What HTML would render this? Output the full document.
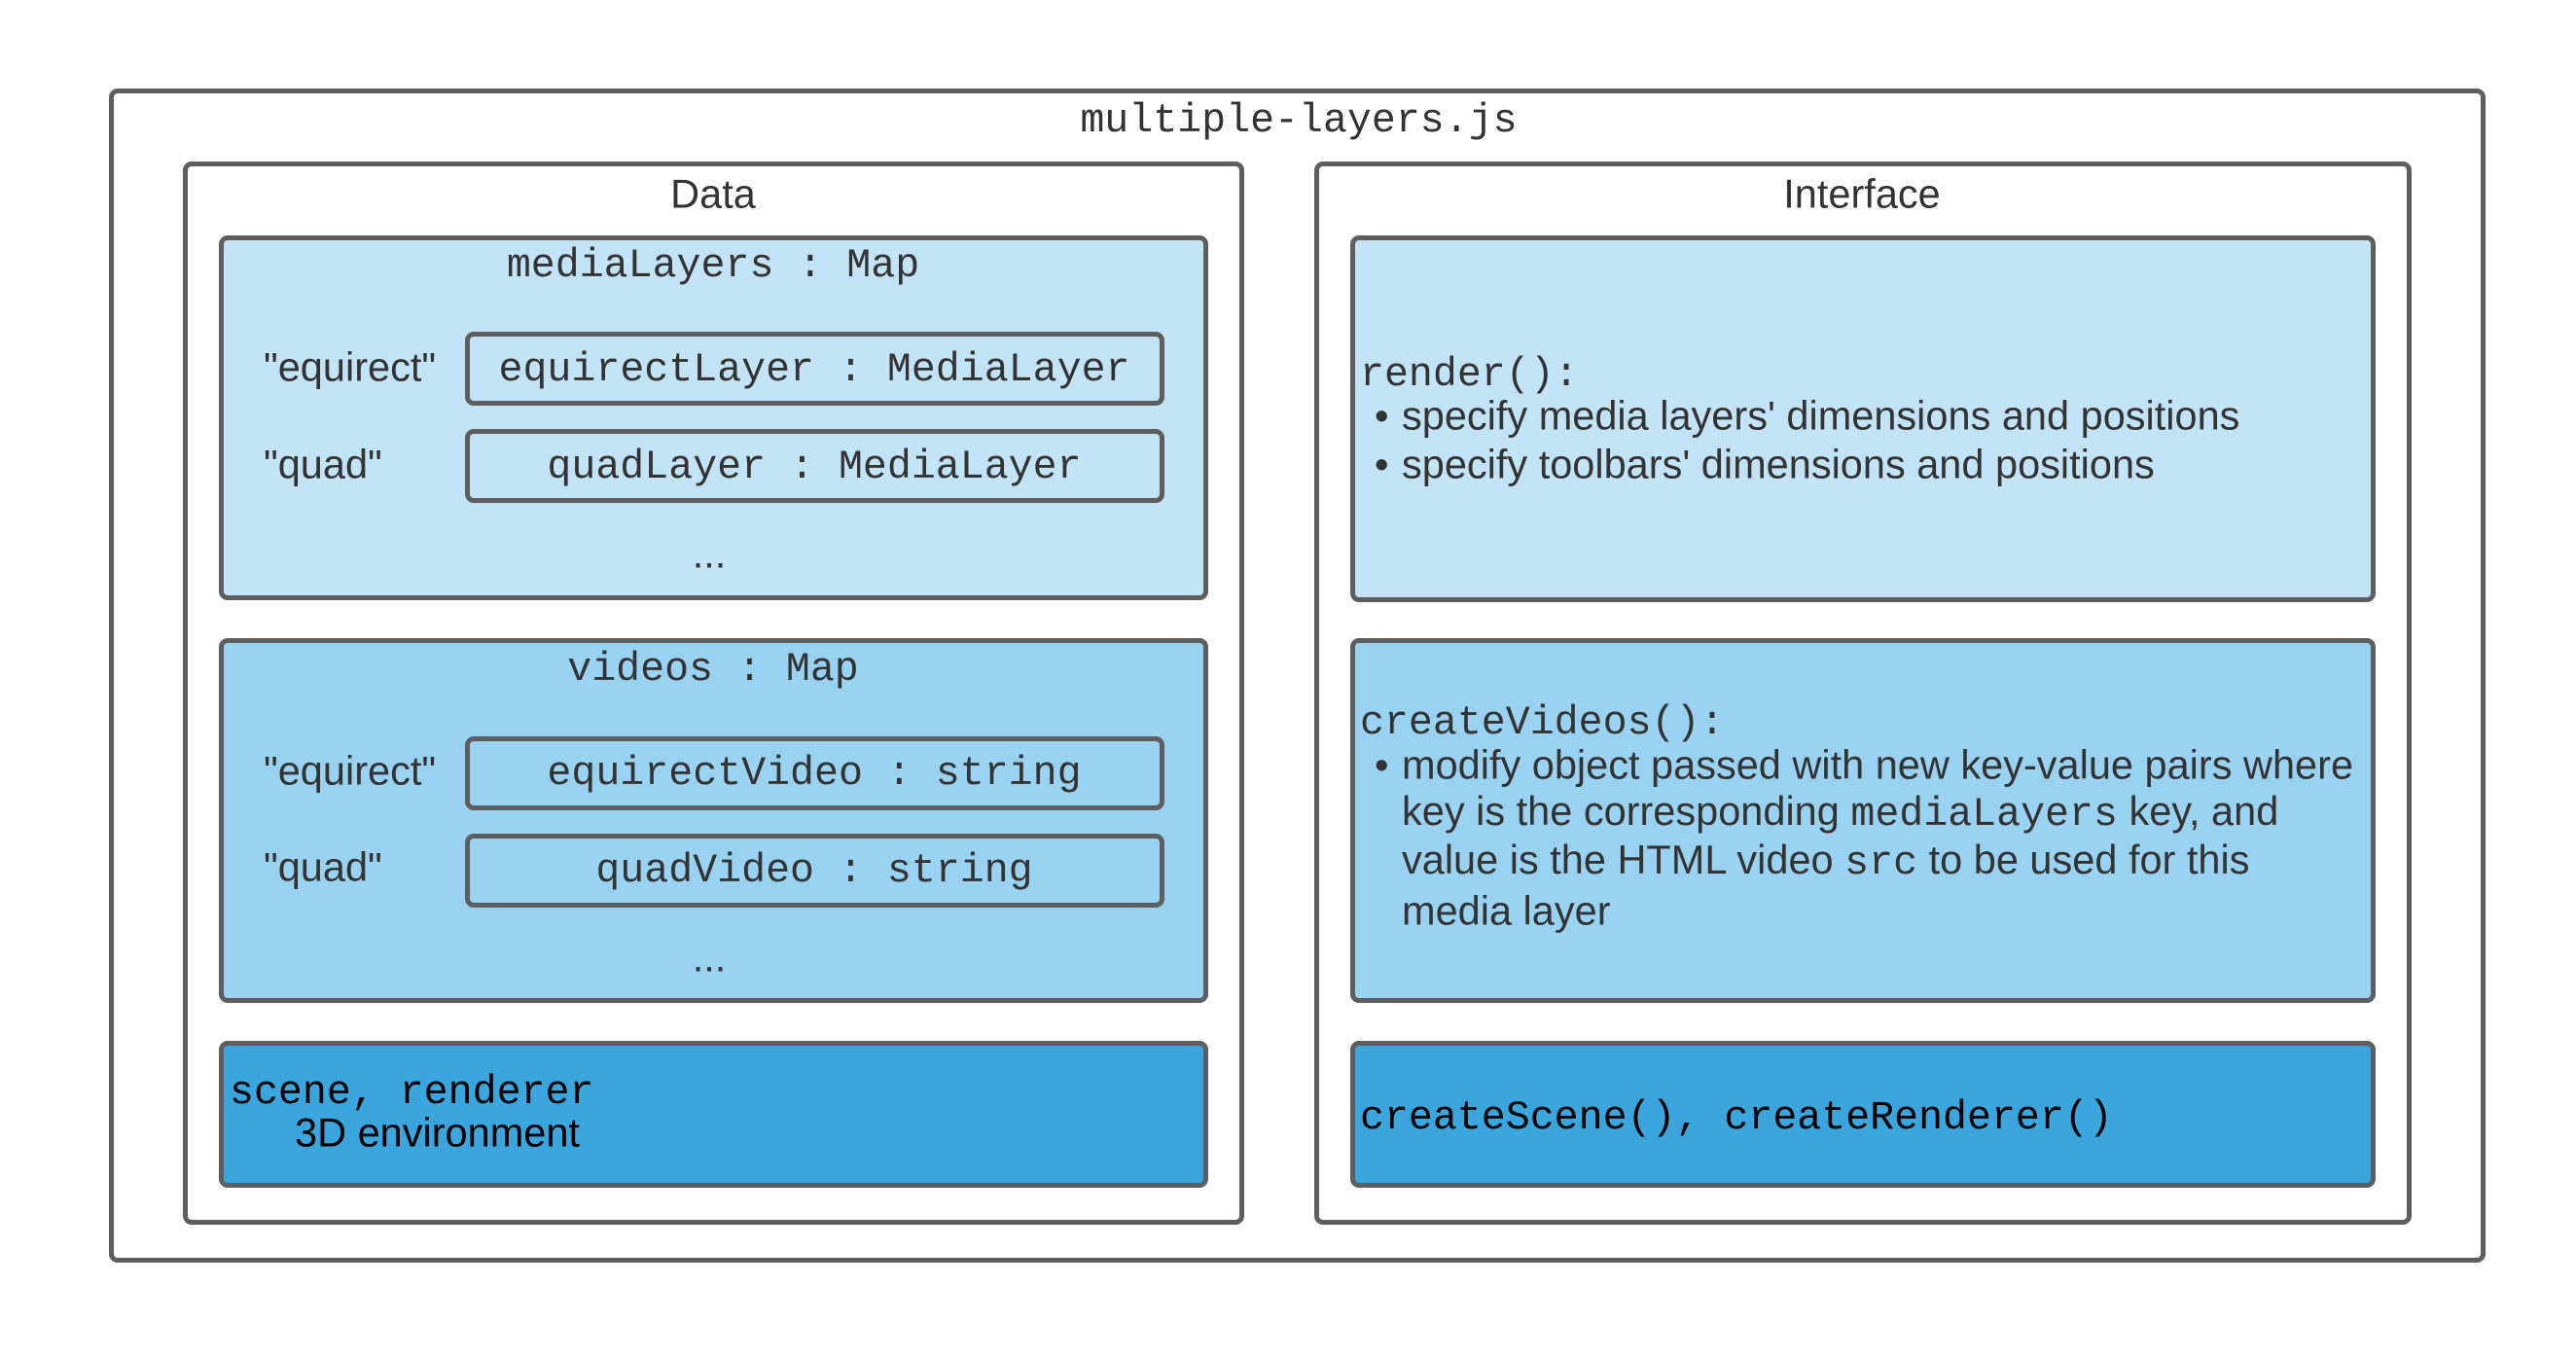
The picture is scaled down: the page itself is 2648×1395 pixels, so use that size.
<!DOCTYPE html>
<html><head><style>
body{margin:0;width:2648px;height:1395px;background:#fff;position:relative;overflow:hidden;font-family:"Liberation Sans",sans-serif;color:#333}
.b{position:absolute;box-sizing:border-box;border:5px solid #5e5e5e;border-radius:9px}
.t{position:absolute;white-space:nowrap;line-height:1}
.m{font-family:"Liberation Mono",monospace}
.c{transform:translate(-50%,-50%)}
.v{transform:translateY(-50%)}
.s{font-size:41.5px}
.mm{font-size:41.6px}
.s .m{font-size:41.6px}
</style></head><body>
<div class="b" style="left:112px;top:91px;width:2443px;height:1207px"></div>
<div class="t m mm c" style="left:1335px;top:125px">multiple-layers.js</div>

<div class="b" style="left:188px;top:166px;width:1091px;height:1093px"></div>
<div class="t s c" style="left:733px;top:199px">Data</div>
<div class="b" style="left:1351px;top:166px;width:1128px;height:1093px"></div>
<div class="t s c" style="left:1914px;top:199px">Interface</div>

<div class="b" style="left:225px;top:242px;width:1017px;height:375px;background:#c2e4f6"></div>
<div class="t m mm c" style="left:733px;top:274px">mediaLayers : Map</div>
<div class="t s v" style="left:271px;top:377px">"equirect"</div>
<div class="t s v" style="left:271px;top:477px">"quad"</div>
<div class="b" style="left:478px;top:341px;width:719px;height:76px"></div>
<div class="t m mm c" style="left:837px;top:381px">equirectLayer : MediaLayer</div>
<div class="b" style="left:478px;top:441px;width:719px;height:76px"></div>
<div class="t m mm c" style="left:837px;top:481px">quadLayer : MediaLayer</div>
<div class="t s c" style="left:729px;top:569px">...</div>

<div class="b" style="left:225px;top:656px;width:1017px;height:375px;background:#9ad2f2"></div>
<div class="t m mm c" style="left:733px;top:689px">videos : Map</div>
<div class="t s v" style="left:271px;top:792px">"equirect"</div>
<div class="t s v" style="left:271px;top:891px">"quad"</div>
<div class="b" style="left:478px;top:757px;width:719px;height:76px"></div>
<div class="t m mm c" style="left:837px;top:796px">equirectVideo : string</div>
<div class="b" style="left:478px;top:857px;width:719px;height:76px"></div>
<div class="t m mm c" style="left:837px;top:896px">quadVideo : string</div>
<div class="t s c" style="left:729px;top:984px">...</div>

<div class="b" style="left:225px;top:1070px;width:1017px;height:151px;background:#3ba5de"></div>
<div class="t m mm v" style="left:236px;top:1124px;color:#000">scene, renderer</div>
<div class="t s v" style="left:303px;top:1164px;color:#000">3D environment</div>

<div class="b" style="left:1388px;top:242px;width:1054px;height:377px;background:#c2e4f6"></div>
<div class="t m mm v" style="left:1398px;top:386px">render():</div>
<div class="t s v" style="left:1413px;top:427px">•</div>
<div class="t s v" style="left:1441px;top:427px">specify media layers' dimensions and positions</div>
<div class="t s v" style="left:1413px;top:477px">•</div>
<div class="t s v" style="left:1441px;top:477px">specify toolbars' dimensions and positions</div>

<div class="b" style="left:1388px;top:656px;width:1054px;height:375px;background:#9ad2f2"></div>
<div class="t m mm v" style="left:1398px;top:744px">createVideos():</div>
<div class="t s v" style="left:1413px;top:786px">•</div>
<div class="t s v" style="left:1441px;top:786px">modify object passed with new key-value pairs where</div>
<div class="t s v" style="left:1441px;top:836px">key is the corresponding <span class="m">mediaLayers</span> key, and</div>
<div class="t s v" style="left:1441px;top:886px">value is the HTML video <span class="m">src</span> to be used for this</div>
<div class="t s v" style="left:1441px;top:936px">media layer</div>

<div class="b" style="left:1388px;top:1070px;width:1054px;height:151px;background:#3ba5de"></div>
<div class="t m mm v" style="left:1398px;top:1150px;color:#000">createScene(), createRenderer()</div>
</body></html>
